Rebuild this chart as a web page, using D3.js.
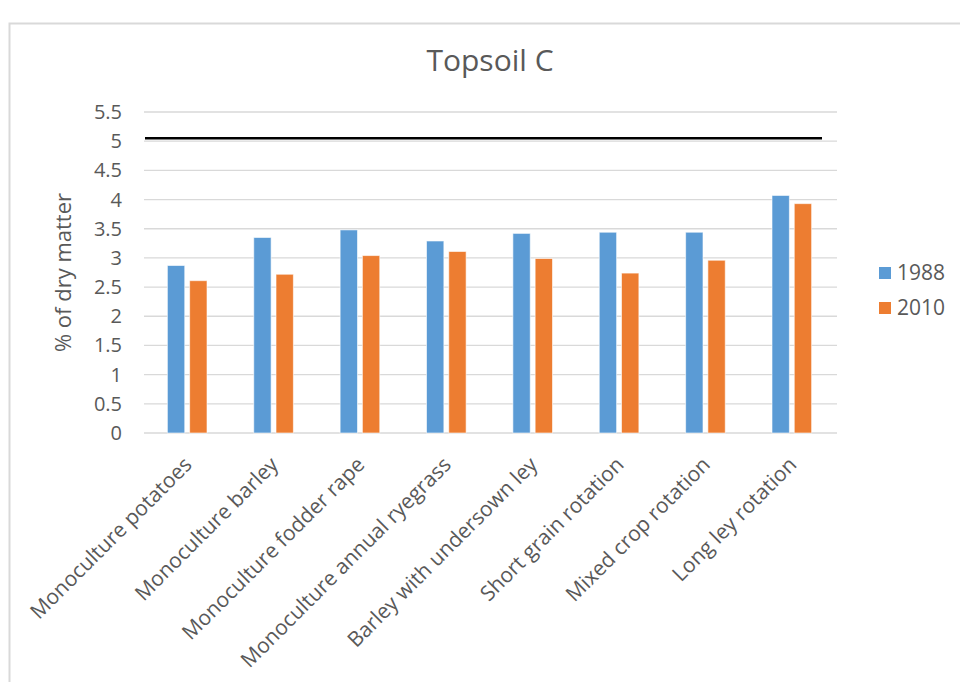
<!DOCTYPE html>
<html lang="en">
<head>
    <meta charset="UTF-8">
    <title>Topsoil C</title>
    <script src="https://d3js.org/d3.v7.min.js"></script>
    <style>
        body {
            margin: 0;
            background: #fff;
            font-family: 'Open Sans', sans-serif;
        }
        svg { display: block; }
        .grid line { stroke: #d9d9d9; stroke-width: 1.3; }
        .tick-label { fill: #595959; font-size: 20px; }
        .cat-label { fill: #595959; font-size: 21px; }
    </style>
</head>
<body>
    <svg></svg>
    <script>
        // Data
        const categories = [
            "Monoculture potatoes",
            "Monoculture barley",
            "Monoculture fodder rape",
            "Monoculture annual ryegrass",
            "Barley with undersown ley",
            "Short grain rotation",
            "Mixed crop rotation",
            "Long ley rotation"
        ];
        const seriesNames = ["1988", "2010"];
        const values1988 = [2.87, 3.35, 3.48, 3.29, 3.42, 3.44, 3.44, 4.07];
        const values2010 = [2.61, 2.72, 3.04, 3.11, 2.99, 2.74, 2.96, 3.93];
        const yTicks = [0, 0.5, 1, 1.5, 2, 2.5, 3, 3.5, 4, 4.5, 5, 5.5];
        const refLine = 5.05;
        const colors = ["#5b9bd5", "#ed7d31"];

        const width = 960, height = 682;
        const svg = d3.select("svg").attr("width", width).attr("height", height);

        // chart border
        svg.append("rect")
            .attr("x", 9.5).attr("y", 23.5)
            .attr("width", width).attr("height", height)
            .attr("fill", "none")
            .attr("stroke", "#d9d9d9")
            .attr("stroke-width", 2);

        const plot = { left: 144, right: 835, top: 112, bottom: 433 };

        const x = d3.scaleBand()
            .domain(categories)
            .range([plot.left, plot.right]);

        const x1 = d3.scaleBand()
            .domain(seriesNames)
            .range([0, x.bandwidth()])
            .paddingInner(0.22)
            .paddingOuter(1.05);

        const y = d3.scaleLinear()
            .domain([0, 5.5])
            .range([plot.bottom, plot.top]);

        // title
        svg.append("text")
            .attr("x", 490).attr("y", 71)
            .attr("text-anchor", "middle")
            .attr("fill", "#595959")
            .style("font-size", "30px")
            .text("Topsoil C");

        // gridlines
        svg.append("g").attr("class", "grid")
            .selectAll("line")
            .data(yTicks)
            .join("line")
            .attr("x1", plot.left).attr("x2", plot.right + 2)
            .attr("y1", d => y(d)).attr("y2", d => y(d));

        // y axis labels
        svg.append("g")
            .selectAll("text")
            .data(yTicks)
            .join("text")
            .attr("class", "tick-label")
            .attr("x", 122)
            .attr("y", d => y(d))
            .attr("dy", "0.35em")
            .attr("text-anchor", "end")
            .text(d => d);

        // y axis title
        svg.append("text")
            .attr("transform", `translate(71,${(plot.top + plot.bottom) / 2}) rotate(-90)`)
            .attr("text-anchor", "middle")
            .attr("fill", "#595959")
            .style("font-size", "22px")
            .text("% of dry matter");

        // bars
        const series = [values1988, values2010];
        const groups = svg.append("g")
            .selectAll("g")
            .data(categories)
            .join("g")
            .attr("transform", d => `translate(${x(d)},0)`);

        groups.selectAll("rect")
            .data((d, i) => seriesNames.map((s, j) => ({ s, v: series[j][i], j })))
            .join("rect")
            .attr("x", d => x1(d.s))
            .attr("width", x1.bandwidth())
            .attr("y", d => y(d.v))
            .attr("height", d => y(0) - y(d.v))
            .attr("fill", d => colors[d.j])
            .attr("stroke", "#fff")
            .attr("stroke-opacity", 0.6)
            .attr("stroke-width", 1);

        // reference line
        svg.append("line")
            .attr("x1", plot.left + 1).attr("x2", plot.right - 13)
            .attr("y1", y(refLine)).attr("y2", y(refLine))
            .attr("stroke", "#000")
            .attr("stroke-width", 2.5);

        // category labels
        svg.append("g")
            .selectAll("text")
            .data(categories)
            .join("text")
            .attr("class", "cat-label")
            .attr("text-anchor", "end")
            .attr("transform", d => `translate(${x(d) + x.bandwidth() / 2 + 6},${plot.bottom + 33}) rotate(-45)`)
            .text(d => d);

        // legend
        const legend = svg.append("g")
            .selectAll("g")
            .data(seriesNames)
            .join("g")
            .attr("transform", (d, i) => `translate(879,${267 + i * 35})`);

        legend.append("rect")
            .attr("width", 12).attr("height", 12)
            .attr("fill", (d, i) => colors[i]);

        legend.append("text")
            .attr("x", 18).attr("y", 6)
            .attr("dy", "0.35em")
            .attr("fill", "#595959")
            .style("font-size", "21px")
            .text(d => d);
    </script>
</body>
</html>
